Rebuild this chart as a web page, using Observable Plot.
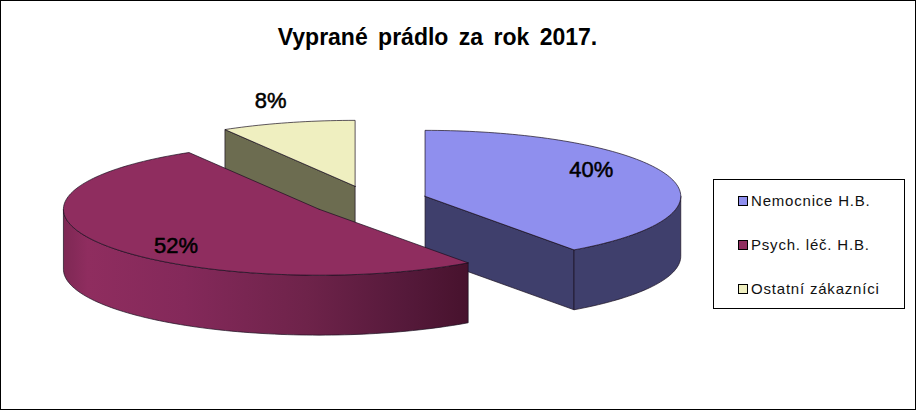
<!DOCTYPE html>
<html lang="cs">
<head>
<meta charset="utf-8">
<script src="https://cdn.jsdelivr.net/npm/d3@7"></script>
<script src="https://cdn.jsdelivr.net/npm/@observablehq/plot@0.6"></script>
<style>
  html, body { margin: 0; padding: 0; background: #fff; }
  #page { position: relative; width: 916px; height: 410px; box-sizing: border-box; border: 1px solid #000; overflow: hidden; font-family: "Liberation Sans", Arial, sans-serif; }
  #chart { position: absolute; left: -1px; top: -1px; }
  #title { position: absolute; left: 0; top: 23px; width: 873px; text-align: center; font-weight: bold; font-size: 23px; line-height: 26px; word-spacing: 4px; color: #000; }
  #legend { position: absolute; left: 712px; top: 178px; width: 190px; height: 128px; border: 1px solid #000; background: #fff; }
  .item { position: absolute; left: 24px; display: flex; align-items: center; font-size: 15px; letter-spacing: 0.8px; line-height: 16px; color: #111; white-space: nowrap; }
  .sw { width: 8px; height: 8px; border: 1px solid #000; margin-right: 3px; flex: none; }
</style>
</head>
<body>
<div id="page">
  <div id="chart"></div>
  <div id="title"></div>
  <div id="legend"></div>
</div>
<script>
const chartTitle = "Vyprané prádlo za rok 2017.";
const categories = ["Nemocnice H.B.", "Psych. léč. H.B.", "Ostatní zákazníci"];
const shares = [40.1, 51.4, 8.5];
const shareLabels = ["40%", "52%", "8%"];
const topColors = ["#8F8FEE", "#8F2D5F", "#EFEFC0"];
const wallColors = ["#3F3F6C", "url(#wall)", "#6C6C50"];

// layout of the exploded 3D pie (scale units equal pixels)
const centers = [[425, 196], [319, 209], [355, 186]];
const rx = 256, ry = 66, depth = 60;
const labelPos = [[0.65, -0.4], [-0.56, 0.55], [-0.33, -1.3]];

const arcs = d3.pie().sort(null)(shares);
const sweep = (i, a0, a1, dy = 0) => {
  const n = Math.max(2, Math.ceil(Math.abs(a1 - a0) * 40));
  return d3.range(n + 1).map(k => {
    const a = a0 + (a1 - a0) * k / n;
    return {x: centers[i][0] + rx * Math.sin(a), y: centers[i][1] - ry * Math.cos(a) + dy};
  });
};
const apex = (i, dy = 0) => ({x: centers[i][0], y: centers[i][1] + dy});
const close = pts => [...pts, pts[0]];
const topRing = i => close([apex(i), ...sweep(i, arcs[i].startAngle, arcs[i].endAngle)]);
// outer wall, only the part that faces the viewer
const outerWall = i => {
  const a0 = Math.max(arcs[i].startAngle, Math.PI / 2), a1 = Math.min(arcs[i].endAngle, 3 * Math.PI / 2);
  return close([...sweep(i, a0, a1), ...sweep(i, a1, a0, depth)]);
};
// flat cut face along one slice edge
const cutFace = (i, a) => {
  const rim = sweep(i, a, a)[0];
  return close([apex(i), rim, {x: rim.x, y: rim.y + depth}, apex(i, depth)]);
};

const shape = (pts, fill) => Plot.line(pts, {x: "x", y: "y", fill, stroke: "#1a1020", strokeWidth: 0.7, curve: "linear"});

const gradient = () => {
  const defs = d3.create("svg:defs");
  const g = defs.append("linearGradient").attr("id", "wall").attr("x1", 0).attr("x2", 1).attr("y1", 0).attr("y2", 0);
  [[0, "#7E2854"], [0.06, "#8F2D5F"], [0.3, "#84295A"], [0.6, "#6E234A"], [0.85, "#55193A"], [1, "#47122D"]]
    .forEach(([o, c]) => g.append("stop").attr("offset", o).attr("stop-color", c));
  return defs.node();
};

const labels = shareLabels.map((text, i) => ({
  text,
  x: centers[i][0] + rx * labelPos[i][0],
  y: centers[i][1] + ry * labelPos[i][1]
}));

const plot = Plot.plot({
  width: 916, height: 410, margin: 0,
  x: {domain: [0, 916], range: [0, 916], axis: null},
  y: {domain: [0, 410], range: [0, 410], axis: null},
  style: {background: "transparent"},
  marks: [
    gradient,
    // back to front: others, hospital, psychiatric
    shape(cutFace(2, arcs[2].startAngle), wallColors[2]),
    shape(topRing(2), topColors[2]),
    shape(cutFace(0, arcs[0].endAngle), wallColors[0]),
    shape(outerWall(0), wallColors[0]),
    shape(topRing(0), topColors[0]),
    shape(outerWall(1), wallColors[1]),
    shape(topRing(1), topColors[1]),
    Plot.text(labels, {x: "x", y: "y", text: "text", fill: "#000", stroke: "#000", strokeWidth: 0.5,
      fontSize: 22, fontFamily: "Liberation Sans, Arial, sans-serif"})
  ]
});
document.getElementById("chart").append(plot);
document.getElementById("title").textContent = chartTitle;

const legend = d3.select("#legend");
const legendTops = [13, 57, 101];
categories.forEach((name, i) => {
  const row = legend.append("div").attr("class", "item").style("top", legendTops[i] + "px");
  row.append("span").attr("class", "sw").style("background", topColors[i]);
  row.append("span").text(name);
});
</script>
</body>
</html>
